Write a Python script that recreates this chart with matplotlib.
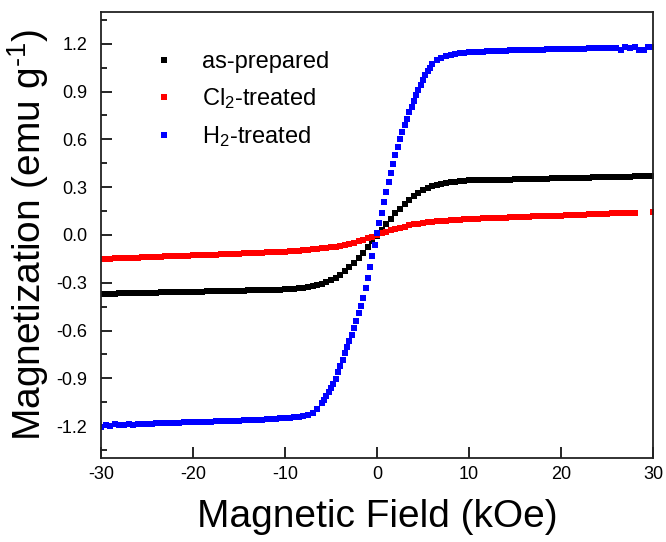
import matplotlib
matplotlib.use("Agg")
import matplotlib.pyplot as plt
from matplotlib.ticker import MultipleLocator, FormatStrFormatter

plt.rcParams['font.family'] = ['Liberation Sans', 'DejaVu Sans']
plt.rcParams['mathtext.fontset'] = 'custom'
plt.rcParams['mathtext.rm'] = 'Liberation Sans'
plt.rcParams['mathtext.it'] = 'Liberation Sans'
plt.rcParams['axes.unicode_minus'] = False

# magnetic field (kOe) for as-prepared and Cl2-treated samples
field = [-30.0, -29.5, -29.0, -28.5, -28.0, -27.5, -27.0, -26.5, -26.0, -25.5,
         -25.0, -24.5, -24.0, -23.5, -23.0, -22.5, -22.0, -21.5, -21.0, -20.5,
         -20.0, -19.5, -19.0, -18.5, -18.0, -17.5, -17.0, -16.5, -16.0, -15.5,
         -15.0, -14.5, -14.0, -13.5, -13.0, -12.5, -12.0, -11.5, -11.0, -10.5,
         -10.0, -9.5, -9.0, -8.5, -8.0, -7.5, -7.0, -6.5, -6.0, -5.5,
         -5.0, -4.5, -4.0, -3.5, -3.0, -2.5, -2.0, -1.5, -1.0, -0.5,
         0.0,
         0.5, 1.0, 1.5, 2.0, 2.5, 3.0, 3.5, 4.0, 4.5, 5.0,
         5.5, 6.0, 6.5, 7.0, 7.5, 8.0, 8.5, 9.0, 9.5, 10.0,
         10.5, 11.0, 11.5, 12.0, 12.5, 13.0, 13.5, 14.0, 14.5, 15.0,
         15.5, 16.0, 16.5, 17.0, 17.5, 18.0, 18.5, 19.0, 19.5, 20.0,
         20.5, 21.0, 21.5, 22.0, 22.5, 23.0, 23.5, 24.0, 24.5, 25.0,
         25.5, 26.0, 26.5, 27.0, 27.5, 28.0, 28.5, 29.0, 29.5, 30.0]

m_as_prepared = [-0.370, -0.369, -0.369, -0.368, -0.367, -0.367, -0.366, -0.365, -0.365, -0.364,
                 -0.363, -0.363, -0.362, -0.361, -0.360, -0.360, -0.359, -0.358, -0.358, -0.357,
                 -0.356, -0.356, -0.355, -0.354, -0.354, -0.353, -0.352, -0.352, -0.351, -0.350,
                 -0.349, -0.349, -0.348, -0.347, -0.347, -0.346, -0.345, -0.344, -0.344, -0.343,
                 -0.342, -0.340, -0.338, -0.335, -0.332, -0.328, -0.323, -0.317, -0.309, -0.298,
                 -0.285, -0.268, -0.249, -0.226, -0.201, -0.173, -0.143, -0.111, -0.077, -0.041,
                 -0.005,
                 0.032, 0.067, 0.102, 0.135, 0.166, 0.194, 0.220, 0.243, 0.263, 0.281,
                 0.295, 0.306, 0.315, 0.321, 0.326, 0.330, 0.334, 0.337, 0.340, 0.342,
                 0.343, 0.343, 0.344, 0.345, 0.346, 0.346, 0.347, 0.348, 0.348, 0.349,
                 0.350, 0.351, 0.351, 0.352, 0.353, 0.353, 0.354, 0.355, 0.355, 0.356,
                 0.357, 0.357, 0.358, 0.359, 0.359, 0.360, 0.361, 0.362, 0.362, 0.363,
                 0.364, 0.364, 0.365, 0.366, 0.366, 0.367, 0.368, 0.368, 0.369, 0.370]

nan = float('nan')
m_cl2 = [-0.150, -0.149, -0.148, -0.147, -0.146, -0.145, -0.144, -0.143, -0.142, -0.141,
         -0.140, -0.139, -0.137, -0.136, -0.135, -0.134, -0.133, -0.132, -0.131, -0.130,
         -0.128, -0.127, -0.126, -0.125, -0.124, -0.123, -0.122, -0.121, -0.119, -0.118,
         -0.117, -0.116, -0.115, -0.114, -0.113, -0.112, -0.110, -0.109, -0.108, -0.106,
         -0.104, -0.102, -0.100, -0.098, -0.096, -0.093, -0.091, -0.088, -0.085, -0.081,
         -0.077, -0.073, -0.068, -0.062, -0.055, -0.048, -0.039, -0.030, -0.021, -0.011,
         -0.002,
         0.010, 0.020, 0.029, 0.038, 0.046, 0.053, 0.060, 0.066, 0.071, 0.075,
         0.079, 0.082, 0.085, 0.088, 0.090, 0.092, 0.094, 0.096, 0.098, 0.100,
         0.101, 0.102, 0.104, 0.105, 0.106, 0.107, 0.108, 0.109, 0.110, 0.111,
         0.112, 0.113, 0.115, 0.116, 0.117, 0.118, 0.119, 0.120, 0.121, 0.122,
         0.124, 0.125, 0.126, 0.127, 0.128, 0.129, 0.130, 0.131, 0.133, 0.134,
         0.135, 0.136, 0.137, 0.138, 0.139, 0.140, nan, nan, nan, 0.145]

# H2-treated sample was measured on a finer step near zero
field_h2 = [-30.0, -29.5, -29.0, -28.5, -28.0, -27.5, -27.0, -26.5, -26.0, -25.5,
            -25.0, -24.5, -24.0, -23.5, -23.0, -22.5, -22.0, -21.5, -21.0, -20.5,
            -20.0, -19.5, -19.0, -18.5, -18.0, -17.5, -17.0, -16.5, -16.0, -15.5,
            -15.0, -14.5, -14.0, -13.5, -13.0, -12.5, -12.0, -11.5, -11.0, -10.5,
            -10.0, -9.5, -9.0, -8.5, -8.0, -7.5, -7.0, -6.5,
            -6.0, -5.75, -5.5, -5.25, -5.0, -4.75, -4.5, -4.25, -4.0, -3.75,
            -3.5, -3.25, -3.0, -2.75, -2.5, -2.25, -2.0, -1.75, -1.5, -1.25,
            -1.0, -0.75, -0.5, -0.25, 0.0, 0.25, 0.5, 0.75, 1.0, 1.25,
            1.5, 1.75, 2.0, 2.25, 2.5, 2.75, 3.0, 3.25, 3.5, 3.75,
            4.0, 4.25, 4.5, 4.75, 5.0, 5.25, 5.5, 5.75, 6.0,
            6.5, 7.0, 7.5, 8.0, 8.5, 9.0, 9.5, 10.0, 10.5, 11.0,
            11.5, 12.0, 12.5, 13.0, 13.5, 14.0, 14.5, 15.0, 15.5, 16.0,
            16.5, 17.0, 17.5, 18.0, 18.5, 19.0, 19.5, 20.0, 20.5, 21.0,
            21.5, 22.0, 22.5, 23.0, 23.5, 24.0, 24.5, 25.0, 25.5, 26.0,
            26.5, 27.0, 27.5, 28.0, 28.5, 29.0, 29.5, 30.0]

m_h2 = [-1.205, -1.190, -1.200, -1.185, -1.195, -1.192, -1.188, -1.190, -1.187, -1.186,
        -1.185, -1.184, -1.183, -1.182, -1.181, -1.180, -1.179, -1.178, -1.177, -1.176,
        -1.175, -1.174, -1.173, -1.172, -1.171, -1.170, -1.169, -1.168, -1.167, -1.166,
        -1.165, -1.164, -1.163, -1.162, -1.161, -1.159, -1.158, -1.156, -1.154, -1.152,
        -1.150, -1.147, -1.144, -1.141, -1.137, -1.129, -1.116, -1.095,
        -1.055, -1.035, -1.012, -0.988, -0.962, -0.933, -0.902, -0.862, -0.822, -0.782,
        -0.742, -0.705, -0.668, -0.625, -0.582, -0.537, -0.492, -0.445, -0.398, -0.335,
        -0.270, -0.200, -0.132, -0.062, 0.010, 0.075, 0.140, 0.205, 0.268, 0.330,
        0.390, 0.445, 0.500, 0.550, 0.600, 0.646, 0.690, 0.731, 0.770, 0.806,
        0.841, 0.876, 0.910, 0.941, 0.972, 1.001, 1.028, 1.051, 1.070,
        1.097, 1.113, 1.123, 1.130, 1.136, 1.140, 1.143, 1.146, 1.148, 1.150,
        1.151, 1.153, 1.154, 1.155, 1.156, 1.157, 1.158, 1.159, 1.160, 1.161,
        1.162, 1.163, 1.163, 1.164, 1.165, 1.166, 1.166, 1.167, 1.168, 1.168,
        1.169, 1.170, 1.170, 1.171, 1.172, 1.172, 1.173, 1.174, 1.171, 1.176,
        1.158, 1.177, 1.176, 1.178, 1.163, 1.160, 1.179, 1.180]

assert len(field) == len(m_as_prepared) == len(m_cl2)
assert len(field_h2) == len(m_h2)

fig = plt.figure(figsize=(6.66, 5.42), dpi=100)
ax = fig.add_axes([0.1517, 0.155, 0.8288, 0.823])

ms = 3.8
ax.plot(field, m_as_prepared, 's', color='black', ms=ms, mew=0, label='as-prepared')
ax.plot(field, m_cl2, 's', color='#ff0000', ms=ms, mew=0, label='Cl$_2$-treated')
ax.plot(field_h2, m_h2, 's', color='#0000ff', ms=ms, mew=0, label='H$_2$-treated')

ax.set_xlim(-30, 30)
ax.set_ylim(-1.4, 1.4)
ax.xaxis.set_major_locator(MultipleLocator(10))
ax.yaxis.set_major_locator(MultipleLocator(0.3))
ax.yaxis.set_minor_locator(MultipleLocator(0.15))
ax.yaxis.set_major_formatter(FormatStrFormatter('%.1f'))
ax.tick_params(which='major', direction='in', length=8, width=1.2, labelsize=13)
ax.tick_params(axis='x', pad=6)
ax.tick_params(axis='y', pad=10)
ax.tick_params(which='minor', direction='in', length=4.5, width=1.2)
ax.tick_params(top=False, right=False)
for s in ax.spines.values():
    s.set_linewidth(1.3)
    s.set_color('#222222')

ax.set_xlabel('Magnetic Field (kOe)', fontsize=28, labelpad=11)
ax.set_ylabel('Magnetization (emu g$^{\\text{-}1}$)', fontsize=28, labelpad=4)

ax.legend(loc='upper left', bbox_to_anchor=(0.063, 0.96), frameon=False, fontsize=17,
          handlelength=0.6, handletextpad=1.3, labelspacing=0.56, markerscale=1.1)

fig.savefig('out.png', dpi=100)
